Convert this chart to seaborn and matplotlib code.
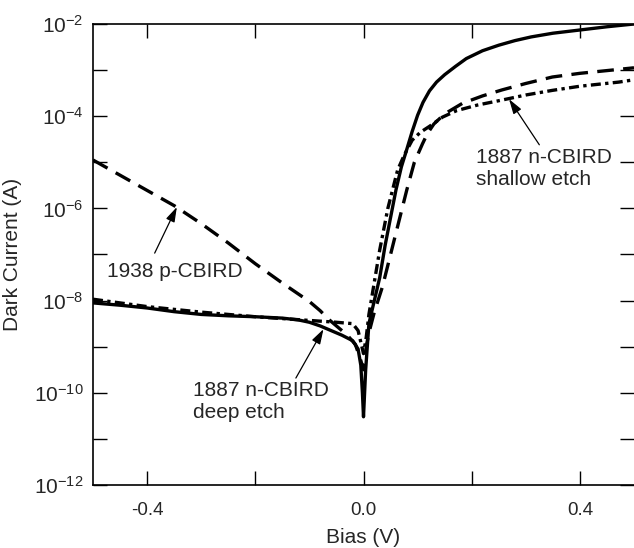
import numpy as np
import pandas as pd
import seaborn as sns
import matplotlib.pyplot as plt
from matplotlib.ticker import FixedLocator, FuncFormatter

# =========================
# Dark current vs bias (log10 of current in A)
# =========================

bias_deep = [-0.5, -0.45, -0.4, -0.35, -0.3, -0.25, -0.2, -0.15, -0.12, -0.1, -0.08, -0.06,
             -0.04, -0.02, -0.01, -0.005, -0.002, 0.0,
             0.004, 0.01, 0.02, 0.03, 0.04, 0.05, 0.06, 0.07, 0.08, 0.09, 0.1, 0.11, 0.122,
             0.135, 0.15, 0.17, 0.19, 0.22, 0.25, 0.28, 0.31, 0.35, 0.4, 0.45, 0.5]
logI_deep = [-8.05, -8.1, -8.16, -8.24, -8.3, -8.33, -8.35, -8.38, -8.42, -8.47, -8.55, -8.65,
             -8.75, -8.87, -9.05, -9.4, -10.0, -10.52,
             -9.5, -8.5, -8.0, -7.5, -6.8, -6.2, -5.6, -5.1, -4.72, -4.33, -3.98, -3.7, -3.45,
             -3.26, -3.1, -2.92, -2.75, -2.58, -2.46, -2.36, -2.28, -2.2, -2.13, -2.06, -2.0]

bias_p = [-0.5, -0.45, -0.4, -0.35, -0.3, -0.25, -0.2, -0.15, -0.12, -0.1, -0.08, -0.065,
          -0.05, -0.03, -0.015, -0.005, 0.0, 0.005, 0.01, 0.02, 0.035, 0.05, 0.065, 0.08,
          0.094, 0.109, 0.118, 0.13, 0.15, 0.183, 0.22, 0.256, 0.3, 0.349, 0.4, 0.459, 0.5]
logI_p = [-4.95, -5.28, -5.61, -5.94, -6.33, -6.75, -7.2, -7.62, -7.86, -8.02, -8.22, -8.4,
          -8.55, -8.75, -8.95, -9.3, -9.5, -9.0, -8.7, -8.25, -7.7, -7.0, -6.3, -5.6,
          -5.0, -4.6, -4.38, -4.17, -3.95, -3.72, -3.56, -3.43, -3.29, -3.15, -3.07, -3.0, -2.95]

bias_shallow = [-0.5, -0.4, -0.3, -0.2, -0.1, -0.05, -0.02, -0.01, -0.004, 0.0, 0.005, 0.01,
                0.02, 0.03, 0.045, 0.063, 0.075, 0.09, 0.105, 0.122, 0.146, 0.172, 0.21,
                0.256, 0.3, 0.349, 0.4, 0.472, 0.5]
logI_shallow = [-7.97, -8.13, -8.25, -8.35, -8.43, -8.47, -8.5, -8.65, -8.95, -9.15, -8.8, -8.3,
                -7.6, -6.9, -6.0, -5.17, -4.85, -4.52, -4.35, -4.22, -4.02, -3.88, -3.76,
                -3.65, -3.54, -3.44, -3.35, -3.26, -3.21]

df = pd.concat([
    pd.DataFrame({"bias": bias_deep, "logI": logI_deep, "device": "deep"}),
    pd.DataFrame({"bias": bias_p, "logI": logI_p, "device": "p"}),
    pd.DataFrame({"bias": bias_shallow, "logI": logI_shallow, "device": "shallow"}),
], ignore_index=True)
df["current"] = 10.0 ** df["logI"]

sns.set_style("ticks")
plt.rcParams["font.family"] = ["Liberation Sans", "DejaVu Sans"]
plt.rcParams["mathtext.fontset"] = "custom"
plt.rcParams["mathtext.rm"] = "Liberation Sans"

fig = plt.figure(figsize=(6.34, 5.48), dpi=100)
ax = fig.add_axes([93 / 634, 63 / 548, 541 / 634, 461 / 548])

sns.lineplot(
    data=df, x="bias", y="current", style="device", units="device",
    estimator=None, sort=False, color="black", linewidth=2.4,
    dashes={"deep": "", "p": (5, 2.8), "shallow": (3, 1.3, 1, 1.3)},
    legend=False, ax=ax,
)

ax.set_yscale("log")
ax.set_xlim(-0.5, 0.5)
ax.set_ylim(1e-12, 1e-2)

ax.xaxis.set_major_locator(FixedLocator([-0.4, -0.2, 0.0, 0.2, 0.4]))
ax.xaxis.set_major_formatter(FuncFormatter(
    lambda v, p: f"{v:.1f}" if abs(round(v * 10)) % 4 == 0 else ""))
ax.yaxis.set_major_locator(FixedLocator([10.0 ** e for e in range(-12, -1)]))
ax.yaxis.set_minor_locator(FixedLocator([]))
ax.yaxis.set_major_formatter(FuncFormatter(
    lambda v, p: (r"$\mathregular{10^{%d}}$" % round(np.log10(v)))
    if round(np.log10(v)) % 2 == 0 else ""))

ax.tick_params(axis="both", which="major", direction="in", length=10, width=1,
               top=True, right=True, color="black")
ax.tick_params(axis="x", labelsize=13.5, pad=12)
ax.tick_params(axis="y", labelsize=15, pad=7)
for side in ["left", "bottom", "top"]:
    ax.spines[side].set_linewidth(1.2)
    ax.spines[side].set_color("black")
ax.spines["right"].set_visible(False)

ax.set_xlabel("Bias (V)", fontsize=15, labelpad=7)
ax.set_ylabel("Dark Current (A)", fontsize=15, labelpad=8)

arrow = dict(arrowstyle="-|>,head_length=0.9,head_width=0.28", color="black",
             lw=0.9, shrinkA=0, shrinkB=0)
ax.annotate("", xy=(-0.345, 10 ** -5.97), xytext=(-0.386, 10 ** -6.97), arrowprops=arrow)
ax.text(-0.474, 10 ** -7.36, "1938 p-CBIRD", fontsize=15, va="center", ha="left")

ax.annotate("", xy=(-0.074, 10 ** -8.62), xytext=(-0.125, 10 ** -9.68), arrowprops=arrow)
ax.text(-0.315, 10 ** -9.75, "1887 n-CBIRD\ndeep etch", fontsize=15, va="top", ha="left",
        linespacing=1.15)

ax.annotate("", xy=(0.269, 10 ** -3.63), xytext=(0.325, 10 ** -4.62), arrowprops=arrow)
ax.text(0.208, 10 ** -4.7, "1887 n-CBIRD\nshallow etch", fontsize=15, va="top", ha="left",
        linespacing=1.15)

fig.savefig("out.png", dpi=100)
plt.close(fig)
